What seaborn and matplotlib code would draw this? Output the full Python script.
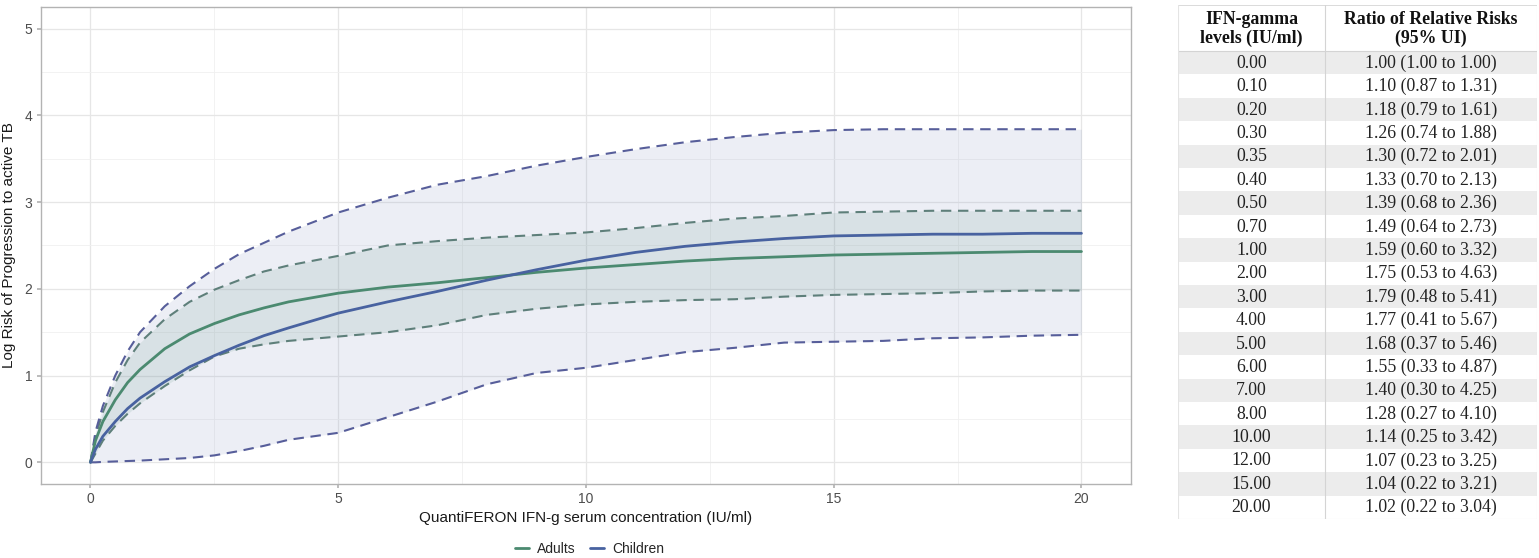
import numpy as np
import pandas as pd
import matplotlib
matplotlib.use("Agg")
import matplotlib.pyplot as plt
from matplotlib.lines import Line2D
from matplotlib.ticker import MultipleLocator
import seaborn as sns

# values
ifn = [0, 0.1, 0.25, 0.5, 0.75, 1, 1.5, 2, 2.5, 3, 3.5, 4, 5, 6, 7, 8, 9, 10,
       11, 12, 13, 14, 15, 16, 17, 18, 19, 20]
adults_mid = [0, 0.25, 0.47, 0.72, 0.92, 1.07, 1.31, 1.48, 1.6, 1.7, 1.78, 1.85, 1.95,
              2.02, 2.07, 2.13, 2.19, 2.24, 2.28, 2.32, 2.35, 2.37, 2.39, 2.4, 2.41,
              2.42, 2.43, 2.43]
adults_lo = [0, 0.1, 0.25, 0.42, 0.56, 0.68, 0.88, 1.06, 1.22, 1.31, 1.36, 1.4, 1.45,
             1.5, 1.58, 1.7, 1.77, 1.82, 1.85, 1.87, 1.88, 1.91, 1.93, 1.94, 1.95,
             1.97, 1.98, 1.98]
adults_hi = [0, 0.3, 0.58, 0.92, 1.18, 1.38, 1.65, 1.85, 1.99, 2.1, 2.2, 2.27, 2.38,
             2.5, 2.55, 2.59, 2.62, 2.65, 2.7, 2.76, 2.81, 2.84, 2.88, 2.89, 2.9,
             2.9, 2.9, 2.9]
children_mid = [0, 0.15, 0.3, 0.47, 0.62, 0.74, 0.93, 1.1, 1.23, 1.35, 1.46, 1.55, 1.72,
                1.85, 1.97, 2.1, 2.22, 2.33, 2.42, 2.49, 2.54, 2.58, 2.61, 2.62, 2.63,
                2.63, 2.64, 2.64]
children_lo = [0, 0.0, 0.005, 0.01, 0.015, 0.02, 0.035, 0.05, 0.08, 0.13, 0.19, 0.26,
               0.34, 0.52, 0.7, 0.9, 1.03, 1.09, 1.18, 1.27, 1.32, 1.38, 1.39, 1.4,
               1.43, 1.44, 1.46, 1.47]
children_hi = [0, 0.35, 0.65, 1.0, 1.28, 1.5, 1.8, 2.03, 2.23, 2.4, 2.53, 2.66, 2.88,
               3.05, 3.2, 3.3, 3.42, 3.52, 3.61, 3.69, 3.75, 3.8, 3.83, 3.84, 3.84,
               3.84, 3.84, 3.84]

# table
tbl_levels = ["0.00", "0.10", "0.20", "0.30", "0.35", "0.40", "0.50", "0.70", "1.00",
              "2.00", "3.00", "4.00", "5.00", "6.00", "7.00", "8.00", "10.00", "12.00",
              "15.00", "20.00"]
tbl_rr = ["1.00 (1.00 to 1.00)", "1.10 (0.87 to 1.31)", "1.18 (0.79 to 1.61)",
          "1.26 (0.74 to 1.88)", "1.30 (0.72 to 2.01)", "1.33 (0.70 to 2.13)",
          "1.39 (0.68 to 2.36)", "1.49 (0.64 to 2.73)", "1.59 (0.60 to 3.32)",
          "1.75 (0.53 to 4.63)", "1.79 (0.48 to 5.41)", "1.77 (0.41 to 5.67)",
          "1.68 (0.37 to 5.46)", "1.55 (0.33 to 4.87)", "1.40 (0.30 to 4.25)",
          "1.28 (0.27 to 4.10)", "1.14 (0.25 to 3.42)", "1.07 (0.23 to 3.25)",
          "1.04 (0.22 to 3.21)", "1.02 (0.22 to 3.04)"]

GREEN = "#4b8a70"
BLUE = "#4862a0"
GREEN_D = "#5e7f7a"
BLUE_D = "#575e9a"

sns.set_theme(style="whitegrid")
plt.rcParams["font.family"] = ["Liberation Sans", "DejaVu Sans"]

df = pd.DataFrame({
    "x": ifn * 2,
    "mid": adults_mid + children_mid,
    "lo": adults_lo + children_lo,
    "hi": adults_hi + children_hi,
    "group": ["Adults"] * len(ifn) + ["Children"] * len(ifn),
})
pal = {"Adults": GREEN, "Children": BLUE}
pal_d = {"Adults": GREEN_D, "Children": BLUE_D}

fig = plt.figure(figsize=(15.39, 5.58), dpi=100)
ax = fig.add_axes([0.0266, 0.1326, 0.7083, 0.855])
ax.set_facecolor("white")

ch = df[df.group == "Children"]
ad = df[df.group == "Adults"]
ax.fill_between(ch.x, ch.lo, ch.hi, color="#8a9ac4", alpha=0.16, lw=0, zorder=1)
ax.fill_between(ad.x, ad.lo, ad.hi, color="#6a9a8a", alpha=0.15, lw=0, zorder=1)

for col in ["lo", "hi"]:
    sns.lineplot(data=df, x="x", y=col, hue="group", palette=pal_d, ax=ax,
                 legend=False, lw=1.5, estimator=None, sort=False, zorder=3)
for l in ax.get_lines():
    l.set_dashes((5, 3.2))
sns.lineplot(data=df, x="x", y="mid", hue="group", palette=pal, ax=ax,
             legend=False, lw=2.0, estimator=None, sort=False, zorder=4)

ax.set_xlim(-1, 21)
ax.set_ylim(-0.25, 5.25)
ax.xaxis.set_major_locator(MultipleLocator(5))
ax.xaxis.set_minor_locator(MultipleLocator(2.5))
ax.yaxis.set_major_locator(MultipleLocator(1))
ax.yaxis.set_minor_locator(MultipleLocator(0.5))
ax.grid(which="major", color="#e6e6e6", lw=0.9)
ax.grid(which="minor", color="#f0f0f0", lw=0.6)
for s in ax.spines.values():
    s.set_color("#b3b3b3")
    s.set_linewidth(1.0)
ax.tick_params(which="major", length=3, color="#b3b3b3", labelcolor="#4d4d4d",
               labelsize=10, pad=3, left=True, bottom=True)
ax.tick_params(which="minor", length=0)
ax.set_xlabel("QuantiFERON IFN-g serum concentration (IU/ml)", fontsize=11,
              color="#1a1a1a", labelpad=3)
ax.set_ylabel("Log Risk of Progression to active TB", fontsize=11,
              color="#1a1a1a", labelpad=6)

handles = [Line2D([], [], color=pal[g], lw=2) for g in ["Adults", "Children"]]
fig.legend(handles, ["Adults", "Children"], loc="center", ncol=2, frameon=False,
           bbox_to_anchor=(0.383, 0.016), fontsize=10, handlelength=1.0,
           handletextpad=0.6, columnspacing=1.0)

# table on the right
tx = fig.add_axes([0.7654, 0.0699, 0.2333, 0.9211])
tx.set_xlim(0, 359)
tx.set_ylim(514, 0)
tx.axis("off")
head_h = 46
row_h = (514 - head_h) / len(tbl_levels)
col_split = 147
serif = ["Liberation Serif", "DejaVu Serif"]
for i, (lv, rr) in enumerate(zip(tbl_levels, tbl_rr)):
    y0 = head_h + i * row_h
    if i % 2 == 0:
        tx.add_patch(plt.Rectangle((0, y0), 359, row_h, color="#ececec", lw=0))
    tx.text(col_split / 2, y0 + row_h / 2 + 0.5, lv, ha="center", va="center",
            family=serif, fontsize=12.8, color="#222222")
    tx.text((col_split + 359) / 2, y0 + row_h / 2 + 0.5, rr, ha="center",
            va="center", family=serif, fontsize=12.8, color="#222222")
tx.text(col_split / 2, head_h / 2 + 1, "IFN-gamma\nlevels (IU/ml)", ha="center",
        va="center", family=serif, fontsize=12.8, fontweight="bold",
        linespacing=1.15, color="#111111")
tx.text((col_split + 359) / 2, head_h / 2 + 1, "Ratio of Relative Risks\n(95% UI)",
        ha="center", va="center", family=serif, fontsize=12.8, fontweight="bold",
        linespacing=1.15, color="#111111")
lc = "#d4d4d4"
tx.plot([0, 359], [0, 0], color=lc, lw=1.2)
tx.plot([0, 359], [head_h, head_h], color=lc, lw=0.8)
tx.plot([0, 359], [514, 514], color="#e4e4e4", lw=0.8)
tx.plot([col_split, col_split], [0, 514], color=lc, lw=0.8)
tx.plot([0, 0], [0, 514], color="#e4e4e4", lw=0.8)
tx.plot([359, 359], [0, 514], color="#e4e4e4", lw=0.8)

fig.savefig("out.png", dpi=100, facecolor="white")
